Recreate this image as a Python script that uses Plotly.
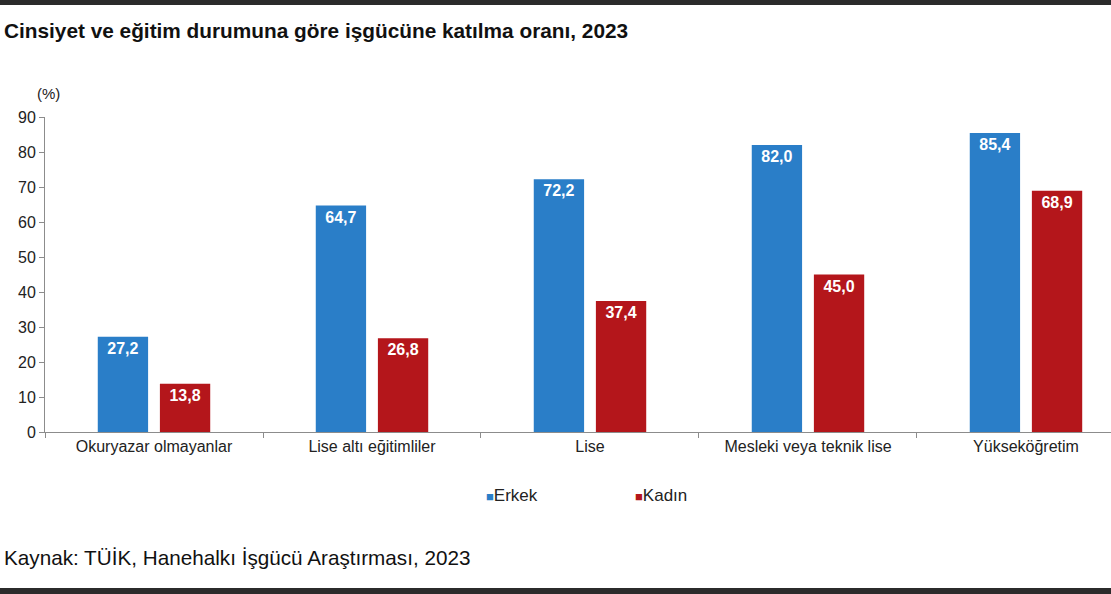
import plotly.graph_objects as go

# data
categories = ['Okuryazar olmayanlar', 'Lise altı eğitimliler', 'Lise',
              'Mesleki veya teknik lise', 'Yükseköğretim']
erkek = [27.2, 64.7, 72.2, 82.0, 85.4]
kadin = [13.8, 26.8, 37.4, 45.0, 68.9]
y_ticks = [0, 10, 20, 30, 40, 50, 60, 70, 80, 90]

BLUE = '#2a7ec8'
RED = '#b4161b'
FONT = 'Liberation Sans, Arial, sans-serif'
W, H = 1111, 594
L, T, B = 45, 117, 162


def fmt(v):
    return f'{v:.1f}'.replace('.', ',')


def py(px):
    # pixel row -> paper y
    return (H - B - px) / (H - T - B)


def px_x(px):
    return (px - L) / (W - L)


fig = go.Figure()
for name, vals, col in [('Erkek', erkek, BLUE), ('Kadın', kadin, RED)]:
    fig.add_trace(go.Bar(
        x=categories, y=vals, name=name, showlegend=False,
        marker=dict(color=col, line=dict(width=0)),
        text=[fmt(v) for v in vals],
        textposition='inside', insidetextanchor='end',
        textfont=dict(family=FONT, size=16, color='white', weight='bold'),
        textangle=0,
    ))
    # legend entry: small coloured square drawn as part of the label
    fig.add_trace(go.Scatter(
        x=[None], y=[None], mode='markers',
        marker=dict(color='rgba(0,0,0,0)', size=1),
        name=f'<span style="color:{col};font-size:13px">■</span>{name}',
        showlegend=True, hoverinfo='skip',
    ))

fig.update_layout(
    width=W, height=H,
    barmode='group', bargap=0.43, bargroupgap=0.19,
    plot_bgcolor='white', paper_bgcolor='white',
    margin=dict(l=L, r=0, t=T, b=B),
    font=dict(family=FONT, size=16, color='#222'),
    showlegend=True,
    legend=dict(orientation='h', x=px_x(446), xanchor='left', y=py(495), yanchor='middle',
                font=dict(size=17, color='#222'), entrywidth=104, itemwidth=30,
                traceorder='normal', bgcolor='rgba(0,0,0,0)'),
)

fig.update_xaxes(
    range=[-0.5, 4.39], showline=True, linecolor='#8c8c8c', linewidth=1,
    ticks='outside', tickson='boundaries', ticklen=5, tickcolor='#8c8c8c',
    showgrid=False, tickfont=dict(size=16, color='#222'), fixedrange=True,
)
fig.update_yaxes(
    range=[0, 90], tickvals=y_ticks, showline=True, linecolor='#8c8c8c', linewidth=1,
    ticks='outside', ticklen=5, tickcolor='#8c8c8c', showgrid=False, zeroline=False,
    tickfont=dict(size=16, color='#222'), fixedrange=True,
)

fig.add_annotation(text='Cinsiyet ve eğitim durumuna göre işgücüne katılma oranı, 2023',
                   xref='paper', yref='paper', x=px_x(2), y=py(30),
                   xanchor='left', yanchor='middle', showarrow=False,
                   font=dict(size=20.8, color='#111', weight='bold'))
fig.add_annotation(text='(%)', xref='paper', yref='paper', x=px_x(48), y=py(93),
                   xanchor='center', yanchor='middle', showarrow=False,
                   font=dict(size=15, color='#222'))
fig.add_annotation(text='Kaynak: TÜİK, Hanehalkı İşgücü Araştırması, 2023',
                   xref='paper', yref='paper', x=px_x(2), y=py(557),
                   xanchor='left', yanchor='middle', showarrow=False,
                   font=dict(size=20.7, color='#111'))

# dark bands from the screenshot edges
for y0, y1 in [(0, 5), (588, 594)]:
    fig.add_shape(type='rect', xref='paper', yref='paper',
                  x0=px_x(0), x1=1, y0=py(y1), y1=py(y0),
                  fillcolor='#2b2b2b', line=dict(width=0), layer='above')

# page default body margin would shift the figure by 8px
fig.write_html('out.html', config={'displayModeBar': False},
               post_script="document.body.style.margin='0';")
